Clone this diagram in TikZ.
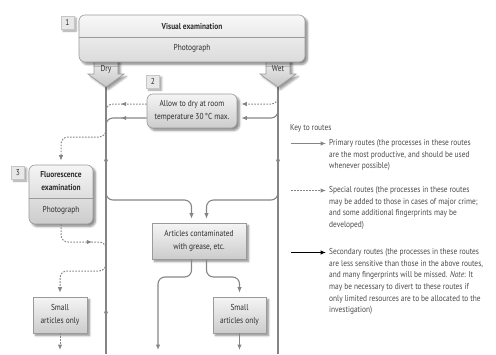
\documentclass[tikz,border=0pt]{standalone}
\usepackage{fontspec}
\setmainfont[FakeStretch=0.86]{PT Sans}
\usetikzlibrary{arrows.meta,shadows,shadows.blur,decorations.markings,calc}

\definecolor{routegray}{HTML}{858585}
\definecolor{boxline}{HTML}{9A9A9A}
\definecolor{inktext}{HTML}{2E2E2E}
\definecolor{keytext}{HTML}{4A4A4A}

\newcommand\boxfont{\fontsize{8.6}{13}\selectfont}
\newcommand\keyfont{\fontsize{8.6}{11.7}\selectfont}

\tikzset{
  routetip/.tip={Latex[length=5.5pt,width=4.5pt]},
  route/.style={draw=routegray,line width=1.1pt,rounded corners=7pt},
  special/.style={route,line width=1pt,dash pattern=on 1.6pt off 1.4pt},
  tipat/.style={postaction={decorate,decoration={markings,mark=at position #1 with {\arrow{routetip}}}}},
  into/.style={-routetip,shorten >=4pt},
  box/.style={draw=boxline,line width=0.6pt,top color=gray!8,bottom color=gray!40,
    blur shadow={shadow xshift=2.5pt,shadow yshift=-2.5pt,shadow blur steps=5,shadow opacity=45},
    text=inktext,align=center,inner sep=0pt,font=\boxfont},
  roundbox/.style={box,rounded corners=6pt},
  numbox/.style={draw=gray!45,fill=gray!18,text=inktext,minimum size=13pt,inner sep=0pt,font=\boxfont,
    blur shadow={shadow xshift=2pt,shadow yshift=-2pt,shadow opacity=40}},
  arrowshape/.style={draw=boxline,line width=0.6pt,top color=gray!10,bottom color=gray!45,
    blur shadow={shadow xshift=2.5pt,shadow yshift=-2.5pt,shadow opacity=40}},
  label/.style={text=inktext,font=\boxfont,inner sep=0pt},
  keynote/.style={anchor=north west,align=left,inner sep=0pt,text=keytext,font=\keyfont},
}

\begin{document}
\begin{tikzpicture}[x=1pt,y=-1pt]
\useasboundingbox (0,0) rectangle (496,354);
%% ends of the two main routes;
\coordinate (drytip) at (106,87);
\coordinate (drybot) at (106,354);
\coordinate (wettip) at (278,87);
\coordinate (wetbot) at (278,354);
%% boxes;
\node[roundbox,minimum width=90pt,minimum height=34pt] (dry) at (192,111)
  {Allow to dry at room\\temperature 30\,°C max.};
\node[roundbox,minimum width=64pt,minimum height=59pt] (fluor) at (61,194.5) {};
\node[box,minimum width=54pt,minimum height=36pt] (smallA) at (60,315) {Small\\articles only};
\node[box,minimum width=94pt,minimum height=36pt] (grease) at (199,241)
  {Articles contaminated\\with grease, etc.};
\node[box,minimum width=53pt,minimum height=36pt] (smallB) at (239.5,315) {Small\\articles only};
\coordinate (greaseinL) at ($(grease.north)+(-7.5,0)$);
\coordinate (greaseinR) at ($(grease.north)+(7.5,0)$);
\coordinate (greaseoutL) at ($(grease.south)+(-7.5,0)$);
\coordinate (greaseoutR) at ($(grease.south)+(7.5,0)$);
\coordinate (leftbot) at (158,354);
%% special routes;
\draw[special,into] (wettip |- 0,90) -- (wettip |- 0,104) -- (dry.east |- 0,104);
\draw[special,tipat=26pt,into] (dry.west |- 0,104) -- (drytip |- 0,104) -- (drytip |- 0,137)
  -- (fluor.north |- 0,137) -- (fluor.north);
\draw[special,tipat=46pt] (fluor.south) -- (fluor.south |- 0,242) -- (drytip |- 0,242) -- (drytip |- 0,254);
\draw[special,into] (drytip |- 0,258) -- (drytip |- 0,271) -- (smallA.north |- 0,271) -- (smallA.north);
\draw[special,into] (smallA.south) -- (smallA.south |- drybot);
%% primary routes;
\draw[route,into] (wettip |- 0,102) -- (wettip |- 0,118) -- (dry.east |- 0,118);
\draw[route,tipat=26pt] (dry.west |- 0,118) -- (drytip |- 0,118) -- (drytip |- 0,132);
\draw[route,into] (drytip |- 0,186) -- (drytip |- 0,200) -- (greaseinL |- 0,200) -- (greaseinL);
\draw[route,into] (wettip |- 0,186) -- (wettip |- 0,200) -- (greaseinR |- 0,200) -- (greaseinR);
\draw[route,into] (greaseoutL) -- (greaseoutL |- 0,277) -- (leftbot |- 0,277) -- (leftbot);
\draw[route,into] (greaseoutR) -- (greaseoutR |- 0,277) -- (smallB.north |- 0,277) -- (smallB.north);
\draw[route,into] (smallB.south) -- (smallB.south |- drybot);
\draw[route,tipat=78pt,tipat=230pt] (drytip) -- (drybot);
\draw[route,tipat=78pt] (wettip) -- (wetbot);
%% dry and wet arrows;
\path[arrowshape] (94,58) -- (118,58) -- (118,74) -- (124,74) -- (drytip) -- (88,74) -- (94,74) -- cycle;
\path[arrowshape] (266,58) -- (290,58) -- (290,74) -- (296,74) -- (wettip) -- (260,74) -- (266,74) -- cycle;
\node[label] (drylab) at (106,69) {Dry};
\node[label] (wetlab) at (278,69) {Wet};
%% box 1;
\node[roundbox,top color=gray!6,bottom color=gray!28,minimum width=226pt,minimum height=47pt] (visual) at (192,38.5) {};
\draw[boxline,line width=0.6pt] (visual.west |- 0,37) -- (visual.east |- 0,37);
\node[label,font=\boxfont\bfseries] (visualtitle) at (192,26.5) {Visual examination};
\node[label] (visualphoto) at (192,48.5) {Photograph};
%% box 3 parts;
\draw[boxline,line width=0.6pt] (fluor.west |- 0,198) -- (fluor.east |- 0,198);
\node[label,align=center,font=\boxfont\bfseries] (fluortitle) at (61,181) {Fluorescence\\examination};
\node[label] (fluorphoto) at (61,210.5) {Photograph};
%% numbers;
\node[numbox] (num1) at (67.5,22.5) {1};
\node[numbox] (num2) at (153,81.5) {2};
\node[numbox] (num3) at (18,172.5) {3};
%% key;
\node[keynote,anchor=west] (keytitle) at (290,128) {Key to routes};
\node[keynote] (keyprimary) at (329,139) {Primary routes (the processes in these routes\\are the most productive, and should be used\\whenever possible)};
\node[keynote] (keyspecial) at (329,186) {Special routes (the processes in these routes\\may be added to those in cases of major crime;\\and some additional fingerprints may be\\developed)};
\node[keynote] (keysecondary) at (329,248) {Secondary routes (the processes in these routes\\are less sensitive than those in the above routes,\\and many fingerprints will be missed. \textit{Note}: It\\may be necessary to divert to these routes if\\only limited resources are to be allocated to the\\investigation)};
\draw[route,-routetip] (keyprimary.north west) ++(-38,4.5) -- ++(35,0);
\draw[special,-routetip] (keyspecial.north west) ++(-38,4.5) -- ++(35,0);
\draw[line width=1.3pt,-routetip] (keysecondary.north west) ++(-38,4.5) -- ++(35,0);
\end{tikzpicture}
\end{document}
